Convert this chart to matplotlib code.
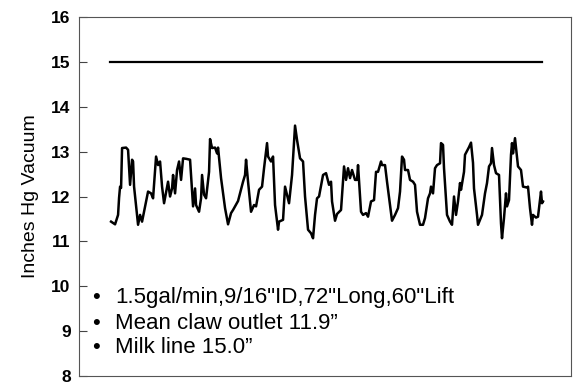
import matplotlib
matplotlib.use("Agg")
import matplotlib.pyplot as plt

plt.rcParams['font.family'] = ['Liberation Sans', 'DejaVu Sans']

# sample position (arbitrary time units across the record) and claw outlet vacuum
t = [32, 36, 39, 40, 41, 42, 43, 47, 49, 51, 53, 54, 55, 59, 61, 63, 64, 69, 72, 74,
     77, 79, 81, 83, 85, 89, 91, 93, 94, 96, 98, 100, 102, 104, 107, 111, 114, 116, 117, 120,
     122, 123, 125, 127, 130, 131, 133, 136, 138, 139, 142, 146, 149, 152, 154, 159, 164, 166, 167, 169,
     172, 175, 177, 180, 183, 185, 188, 189, 192, 194, 196, 199, 200, 204, 206, 208, 210, 213, 216, 218,
     221, 224, 226, 229, 232, 234, 236, 238, 240, 244, 247, 250, 252, 253, 256, 258, 262, 265, 267, 269,
     271, 273, 276, 278, 279, 282, 284, 287, 289, 292, 295, 297, 299, 302, 303, 306, 308, 311, 313, 316,
     319, 321, 323, 325, 326, 329, 331, 334, 336, 338, 341, 344, 346, 349, 351, 352, 354, 356, 358, 361,
     362, 364, 365, 368, 371, 373, 375, 377, 379, 381, 382, 385, 386, 390, 392, 394, 395, 398, 399, 403,
     406, 408, 410, 412, 413, 415, 417, 420, 422, 423, 425, 427, 428, 430, 432, 433, 434, 436, 438, 439,
     442, 444, 448, 449, 451, 453, 454, 457, 459, 462, 463, 464]
claw = [11.44, 11.38, 11.59, 11.97, 12.22, 12.19, 13.08, 13.09, 13.04, 12.26, 12.82, 12.78, 12.22, 11.37, 11.59, 11.44, 11.55, 12.11, 12.07, 11.96,
        12.89, 12.70, 12.78, 12.22, 11.85, 12.33, 12.00, 12.18, 12.48, 12.07, 12.59, 12.78, 12.37, 12.85, 12.84, 12.82, 11.78, 12.18, 11.81, 11.66,
        11.96, 12.48, 12.04, 11.96, 12.55, 13.28, 13.08, 13.09, 12.96, 13.09, 12.41, 11.74, 11.38, 11.63, 11.70, 11.90, 12.33, 12.48, 12.82, 12.33,
        11.66, 11.81, 11.78, 12.15, 12.22, 12.63, 13.19, 12.89, 12.78, 12.89, 11.81, 11.26, 11.44, 11.48, 12.22, 12.04, 11.85, 12.48, 13.58, 13.26,
        12.85, 12.78, 12.00, 11.26, 11.18, 11.07, 11.59, 11.96, 12.00, 12.48, 12.52, 12.26, 12.33, 11.89, 11.46, 11.61, 11.70, 12.67, 12.37, 12.63,
        12.41, 12.59, 12.37, 12.37, 12.70, 11.66, 11.59, 11.63, 11.55, 11.89, 11.92, 12.55, 12.55, 12.78, 12.70, 12.70, 12.33, 11.81, 11.46, 11.59,
        11.74, 12.11, 12.89, 12.82, 12.59, 12.59, 12.37, 12.33, 12.26, 11.66, 11.37, 11.37, 11.52, 11.96, 12.07, 12.22, 12.07, 12.63, 12.70, 12.74,
        13.19, 13.15, 12.63, 11.59, 11.44, 11.37, 12.00, 11.59, 11.89, 12.30, 12.15, 12.55, 12.93, 13.10, 13.20, 12.75, 12.18, 11.59, 11.37, 11.59,
        12.07, 12.30, 12.67, 12.74, 13.08, 12.70, 12.52, 12.48, 11.40, 11.07, 11.52, 12.07, 11.78, 11.92, 12.93, 13.19, 12.96, 13.30, 12.89, 12.67,
        12.59, 12.22, 12.20, 12.22, 11.74, 11.37, 11.59, 11.53, 11.55, 12.11, 11.85, 11.89]

milk_line = 15.0
milk_span = [31, 463]

notes = ['1.5gal/min,9/16"ID,72"Long,60"Lift',
         'Mean claw outlet 11.9\u201d',
         'Milk line 15.0\u201d']

fig = plt.figure(figsize=(5.73, 3.82), dpi=100)
ax = fig.add_axes([0.138, 0.0157, 0.8585, 0.9398])

ax.plot(t, claw, color='black', lw=1.8, solid_joinstyle='round')
ax.plot(milk_span, [milk_line, milk_line], color='black', lw=1.6)

ax.set_xlim(0, 492)
ax.set_ylim(8, 16)
ax.set_yticks(range(8, 17))
ax.set_xticks([])
ax.tick_params(axis='y', direction='in', length=6, width=0.8, color='#444444',
               labelsize=12.5, pad=6)
for lab in ax.get_yticklabels():
    lab.set_fontweight('bold')
for sp in ax.spines.values():
    sp.set_color('#555555')
    sp.set_linewidth(0.8)

ax.set_ylabel('Inches Hg Vacuum', fontsize=14, labelpad=9)

# bullet notes
baselines = [0.203, 0.131, 0.064]
for txt, yb in zip(notes, baselines):
    ax.text(0.035, yb, '\u2022', transform=ax.transAxes, ha='center', va='baseline',
            fontsize=16)
    ax.text(0.073, yb, txt, transform=ax.transAxes, ha='left', va='baseline',
            fontsize=16)

fig.savefig('out.png', dpi=100)
